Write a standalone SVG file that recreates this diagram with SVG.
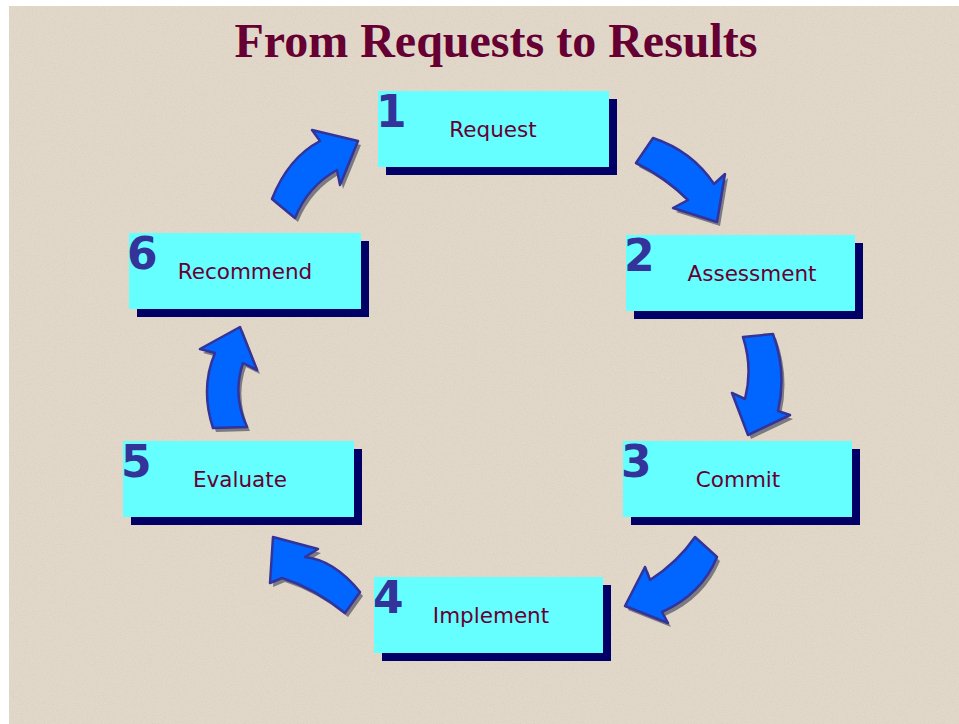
<svg xmlns="http://www.w3.org/2000/svg" xmlns:xlink="http://www.w3.org/1999/xlink" width="959" height="724" viewBox="0 0 959 724">
<style>
.shadow{fill:#000066}
.box{fill:#66FFFF}
.num{font-family:"DejaVu Sans","Noto Sans",sans-serif;font-weight:bold;font-size:44px;fill:#333399}
.lbl{font-family:"DejaVu Sans","Noto Sans",sans-serif;font-size:21.5px;fill:#660033;text-anchor:middle}
.title{font-family:"Liberation Serif","Times New Roman",serif;font-weight:bold;font-size:48px;fill:#660033;text-anchor:middle}
.arr{fill:#0066FF;stroke:#333399;stroke-width:2.5;stroke-linejoin:round}
.arrsh{fill:#7a7a80}
</style>
<defs>
<filter id="grain" x="0" y="0" width="100%" height="100%">
<feTurbulence type="fractalNoise" baseFrequency="0.9" numOctaves="2" seed="3" result="n"/>
<feColorMatrix in="n" type="matrix" values="0 0 0 0 0.55  0 0 0 0 0.48  0 0 0 0 0.40  0 0 0 -1.6 0.9" result="d"/>
<feComposite in="d" in2="SourceGraphic" operator="in"/>
</filter>
<path id="a12" d="M653,138 Q692,151 714,184 L725,174 L717,222 L673,208 L688,200 Q665,177 636,163 Z"/>
<path id="a23" d="M743,337 L773,334 Q787,372 778,411 L790,415 L748,435 L732,393 L745,399 Q753,368 743,337 Z"/>
<path id="a34" d="M695,537 Q678,562 650,580 L645,567 L625,606 L668,623 L662,612 Q702,594 717,557 Z"/>
<path id="a45" d="M360,592 Q334,560 305,557 L318,549 L273,537 L270,583 L282,578 Q314,588 345,613 Z"/>
<path id="a56" d="M213,428 Q200,388 215,353 L200,349 L240,327 L257,370 L243,363 Q232,395 247,427 Z"/>
<path id="a61" d="M272,199 Q288,158 320,141 L312,130 L358,141 L340,185 L337,170 Q308,186 295,218 Z"/>
</defs>
<rect width="959" height="724" fill="#ffffff"/>
<rect x="9" y="6" width="950" height="718" fill="#e2d8ca"/>
<rect x="9" y="6" width="950" height="718" fill="#e2d8ca" filter="url(#grain)" opacity="0.35"/>
<text class="title" x="496" y="57">From Requests to Results</text>
<g id="connectors">
<use xlink:href="#a12" class="arrsh" transform="translate(3,4)"/>
<use xlink:href="#a12" class="arr"/>
<use xlink:href="#a23" class="arrsh" transform="translate(3,4)"/>
<use xlink:href="#a23" class="arr"/>
<use xlink:href="#a34" class="arrsh" transform="translate(3,4)"/>
<use xlink:href="#a34" class="arr"/>
<use xlink:href="#a45" class="arrsh" transform="translate(3,4)"/>
<use xlink:href="#a45" class="arr"/>
<use xlink:href="#a56" class="arrsh" transform="translate(3,4)"/>
<use xlink:href="#a56" class="arr"/>
<use xlink:href="#a61" class="arrsh" transform="translate(3,4)"/>
<use xlink:href="#a61" class="arr"/>
</g>
<g id="node1">
<rect class="shadow" x="386" y="99" width="231" height="76"/>
<rect class="box" x="378" y="91" width="231" height="76"/>
<text class="num" x="376" y="127">1</text>
<text class="lbl" x="493" y="137">Request</text>
</g>
<g id="node2">
<rect class="shadow" x="634" y="243" width="229" height="76"/>
<rect class="box" x="626" y="235" width="229" height="76"/>
<text class="num" x="624" y="271">2</text>
<text class="lbl" x="752" y="281">Assessment</text>
</g>
<g id="node3">
<rect class="shadow" x="631" y="449" width="229" height="76"/>
<rect class="box" x="623" y="441" width="229" height="76"/>
<text class="num" x="621" y="477">3</text>
<text class="lbl" x="738" y="487">Commit</text>
</g>
<g id="node4">
<rect class="shadow" x="382" y="585" width="229" height="76"/>
<rect class="box" x="374" y="577" width="229" height="76"/>
<text class="num" x="373" y="613">4</text>
<text class="lbl" x="491" y="623">Implement</text>
</g>
<g id="node5">
<rect class="shadow" x="131" y="449" width="231" height="76"/>
<rect class="box" x="123" y="441" width="231" height="76"/>
<text class="num" x="121" y="477">5</text>
<text class="lbl" x="240" y="487">Evaluate</text>
</g>
<g id="node6">
<rect class="shadow" x="137" y="241" width="232" height="76"/>
<rect class="box" x="129" y="233" width="232" height="76"/>
<text class="num" x="127" y="269">6</text>
<text class="lbl" x="245" y="279">Recommend</text>
</g>
</svg>
